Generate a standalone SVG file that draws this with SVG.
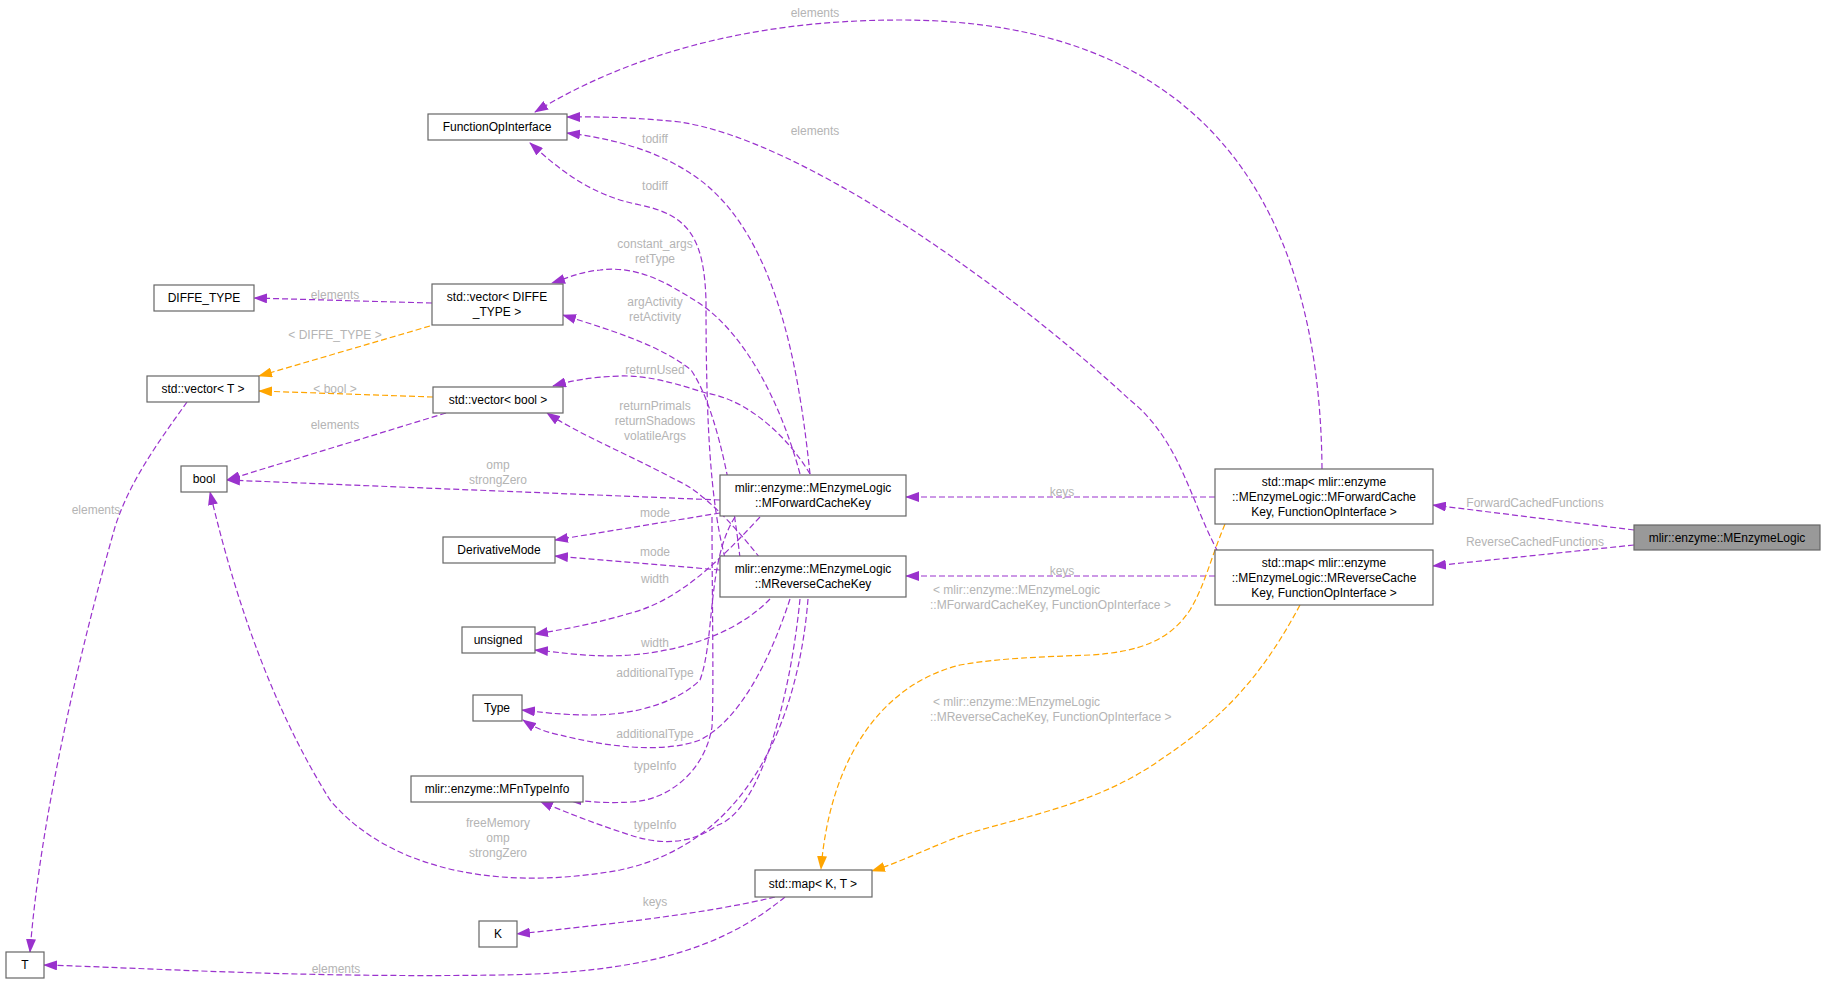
<svg xmlns="http://www.w3.org/2000/svg" width="1823" height="981" viewBox="0 0 1823 981">
<style>
.n rect{fill:#fff;stroke:#666;stroke-width:1.2}
.n text,.t{font-family:"Liberation Sans",Arial,sans-serif;font-size:12px;fill:#000;text-anchor:middle}
.e path{fill:none;stroke:#9a32cd;stroke-width:1.2;stroke-dasharray:6,3}
.e path.o{stroke:#ffa500}
.l{font-family:"Liberation Sans",Arial,sans-serif;font-size:12px;fill:#b4b4b4;text-anchor:middle}
</style>
<defs>
<marker id="p" viewBox="0 0 14 10" refX="13" refY="5" markerWidth="14" markerHeight="10" markerUnits="userSpaceOnUse" orient="auto"><path d="M0,0 L14,5 L0,10 z" fill="#9a32cd"/></marker>
<marker id="a" viewBox="0 0 14 10" refX="13" refY="5" markerWidth="14" markerHeight="10" markerUnits="userSpaceOnUse" orient="auto"><path d="M0,0 L14,5 L0,10 z" fill="#ffa500"/></marker>
</defs>
<rect width="1823" height="981" fill="#fff"/>
<g id="edges" class="e">
<path d="M1634,530 L1433,505" marker-end="url(#p)"/>
<path d="M1634,545 L1433,566" marker-end="url(#p)"/>
<path d="M1322,469 C1320,200 1200,20 900,20 C740,20 620,60 535,112" marker-end="url(#p)"/>
<path d="M1218,552 C1190,500 1180,440 1130,400 C1000,280 800,140 680,122 C620,116 590,117 567,117" marker-end="url(#p)"/>
<path d="M810,474 C800,380 780,240 700,180 C660,150 610,138 567,133" marker-end="url(#p)"/>
<path d="M725,558 C710,500 706,420 706,300 C704,240 690,215 640,205 C590,195 560,170 530,143" marker-end="url(#p)"/>
<path d="M800,474 C780,400 744,333 699,303 C670,285 640,265 600,270 C580,272 570,277 552,283" marker-end="url(#p)"/>
<path d="M740,558 C730,470 712,400 691,370 C660,345 610,330 563,315" marker-end="url(#p)"/>
<path d="M810,474 C790,440 750,400 706,393 C680,385 650,375 620,376 C590,377 570,381 553,386" marker-end="url(#p)"/>
<path d="M760,558 C730,520 700,490 676,480 C630,455 580,435 547,413" marker-end="url(#p)"/>
<path d="M432,303 L254,298" marker-end="url(#p)"/>
<path class="o" d="M430,326 L259,376" marker-end="url(#a)"/>
<path class="o" d="M433,397 L259,391" marker-end="url(#a)"/>
<path d="M446,413 L227,480" marker-end="url(#p)"/>
<path d="M720,500 L227,480" marker-end="url(#p)"/>
<path d="M808,599 C800,700 760,840 620,870 C480,895 380,860 330,800 C280,720 240,620 210,492" marker-end="url(#p)"/>
<path d="M720,513 L555,540" marker-end="url(#p)"/>
<path d="M720,570 L555,556" marker-end="url(#p)"/>
<path d="M760,517 C720,560 680,600 631,613 C590,625 560,630 535,634" marker-end="url(#p)"/>
<path d="M770,599 C740,630 690,650 631,655 C590,658 560,652 535,650" marker-end="url(#p)"/>
<path d="M735,517 C707,560 715,640 700,680 C680,700 640,715 591,715 C560,715 540,712 522,710" marker-end="url(#p)"/>
<path d="M790,599 C770,660 740,720 700,740 C660,755 600,745 560,735 C545,732 535,728 523,720" marker-end="url(#p)"/>
<path d="M712,517 C712,600 714,690 712,727 C705,770 670,800 631,802 C600,804 580,800 568,800" marker-end="url(#p)"/>
<path d="M800,599 C790,700 760,810 718,825 C690,845 660,845 630,835 C590,822 560,810 540,801" marker-end="url(#p)"/>
<path d="M1215,497 L906,497" marker-end="url(#p)"/>
<path d="M1215,576 L906,576" marker-end="url(#p)"/>
<path class="o" d="M1225,524 C1210,560 1205,585 1190,610 C1170,640 1140,652 1090,655 C1040,657 1000,658 960,665 C880,685 830,760 821,869" marker-end="url(#a)"/>
<path class="o" d="M1300,605 C1260,680 1220,720 1160,760 C1090,810 1000,820 950,840 C920,852 900,862 872,871" marker-end="url(#a)"/>
<path d="M775,897 C700,915 600,925 517,934" marker-end="url(#p)"/>
<path d="M785,897 C720,950 640,973 500,975 C300,978 150,968 44,965" marker-end="url(#p)"/>
<path d="M187,402 C160,440 130,480 115,527 C80,650 40,820 30,952" marker-end="url(#p)"/>
</g>
<g id="labels">
<text class="l" x="1535" y="507">ForwardCachedFunctions</text>
<text class="l" x="1535" y="546">ReverseCachedFunctions</text>
<text class="l" x="815" y="17">elements</text>
<text class="l" x="815" y="135">elements</text>
<text class="l" x="655" y="143">todiff</text>
<text class="l" x="655" y="190">todiff</text>
<text class="l" x="655" y="248">constant_args</text>
<text class="l" x="655" y="263">retType</text>
<text class="l" x="655" y="306">argActivity</text>
<text class="l" x="655" y="321">retActivity</text>
<text class="l" x="655" y="374">returnUsed</text>
<text class="l" x="655" y="410">returnPrimals</text>
<text class="l" x="655" y="425">returnShadows</text>
<text class="l" x="655" y="440">volatileArgs</text>
<text class="l" x="335" y="299">elements</text>
<text class="l" x="335" y="339">&lt; DIFFE_TYPE &gt;</text>
<text class="l" x="335" y="393">&lt; bool &gt;</text>
<text class="l" x="335" y="429">elements</text>
<text class="l" x="498" y="469">omp</text>
<text class="l" x="498" y="484">strongZero</text>
<text class="l" x="498" y="827">freeMemory</text>
<text class="l" x="498" y="842">omp</text>
<text class="l" x="498" y="857">strongZero</text>
<text class="l" x="655" y="517">mode</text>
<text class="l" x="655" y="556">mode</text>
<text class="l" x="655" y="583">width</text>
<text class="l" x="655" y="647">width</text>
<text class="l" x="655" y="677">additionalType</text>
<text class="l" x="655" y="738">additionalType</text>
<text class="l" x="655" y="770">typeInfo</text>
<text class="l" x="655" y="829">typeInfo</text>
<text class="l" x="1062" y="496">keys</text>
<text class="l" x="1062" y="575">keys</text>
<text class="l" x="933" y="594" style="text-anchor:start">&lt; mlir::enzyme::MEnzymeLogic</text>
<text class="l" x="930" y="609" style="text-anchor:start">::MForwardCacheKey, FunctionOpInterface &gt;</text>
<text class="l" x="933" y="706" style="text-anchor:start">&lt; mlir::enzyme::MEnzymeLogic</text>
<text class="l" x="930" y="721" style="text-anchor:start">::MReverseCacheKey, FunctionOpInterface &gt;</text>
<text class="l" x="655" y="906">keys</text>
<text class="l" x="336" y="973">elements</text>
<text class="l" x="96" y="514">elements</text>
</g>
<g id="MEnzymeLogic" class="n"><rect x="1634" y="525" width="186" height="25" style="fill:#999"/><text x="1727" y="542">mlir::enzyme::MEnzymeLogic</text></g>
<g id="mapFwd" class="n"><rect x="1215" y="469" width="218" height="55"/><text x="1324" y="486">std::map&lt; mlir::enzyme</text><text x="1324" y="501">::MEnzymeLogic::MForwardCache</text><text x="1324" y="516">Key, FunctionOpInterface &gt;</text></g>
<g id="mapRev" class="n"><rect x="1215" y="550" width="218" height="55"/><text x="1324" y="567">std::map&lt; mlir::enzyme</text><text x="1324" y="582">::MEnzymeLogic::MReverseCache</text><text x="1324" y="597">Key, FunctionOpInterface &gt;</text></g>
<g id="FwdKey" class="n"><rect x="720" y="475" width="186" height="41"/><text x="813" y="492">mlir::enzyme::MEnzymeLogic</text><text x="813" y="507">::MForwardCacheKey</text></g>
<g id="RevKey" class="n"><rect x="720" y="556" width="186" height="41"/><text x="813" y="573">mlir::enzyme::MEnzymeLogic</text><text x="813" y="588">::MReverseCacheKey</text></g>
<g id="FOI" class="n"><rect x="428" y="114" width="139" height="26"/><text x="497" y="131">FunctionOpInterface</text></g>
<g id="DIFFE_TYPE" class="n"><rect x="154" y="285" width="100" height="26"/><text x="204" y="302">DIFFE_TYPE</text></g>
<g id="vecDT" class="n"><rect x="432" y="284" width="131" height="41"/><text x="497" y="301">std::vector&lt; DIFFE</text><text x="497" y="316">_TYPE &gt;</text></g>
<g id="vecT" class="n"><rect x="147" y="376" width="112" height="26"/><text x="203" y="393">std::vector&lt; T &gt;</text></g>
<g id="vecBool" class="n"><rect x="433" y="387" width="130" height="26"/><text x="498" y="404">std::vector&lt; bool &gt;</text></g>
<g id="bool" class="n"><rect x="181" y="466" width="46" height="26"/><text x="204" y="483">bool</text></g>
<g id="DerivativeMode" class="n"><rect x="443" y="537" width="112" height="26"/><text x="499" y="554">DerivativeMode</text></g>
<g id="unsigned" class="n"><rect x="462" y="627" width="73" height="26"/><text x="498" y="644">unsigned</text></g>
<g id="Type" class="n"><rect x="473" y="695" width="49" height="26"/><text x="497" y="712">Type</text></g>
<g id="MFnTypeInfo" class="n"><rect x="411" y="776" width="172" height="26"/><text x="497" y="793">mlir::enzyme::MFnTypeInfo</text></g>
<g id="mapKT" class="n"><rect x="755" y="870" width="117" height="27"/><text x="813" y="888">std::map&lt; K, T &gt;</text></g>
<g id="K" class="n"><rect x="479" y="921" width="38" height="26"/><text x="498" y="938">K</text></g>
<g id="T" class="n"><rect x="6" y="952" width="38" height="26"/><text x="25" y="969">T</text></g>
</svg>
